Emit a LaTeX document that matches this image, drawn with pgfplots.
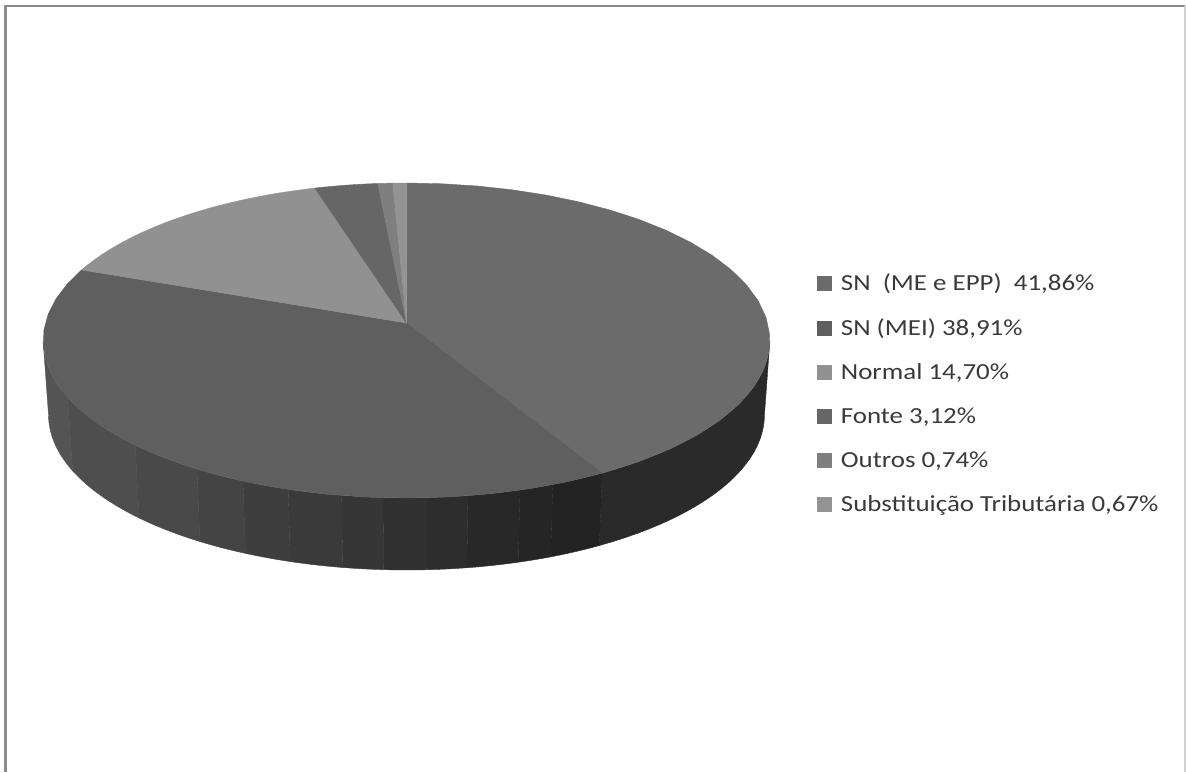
\documentclass[border=0pt]{standalone}
\usepackage{pgfplots}
\usepackage{fontspec}
\pgfplotsset{compat=1.18}
\setmainfont[FakeStretch=1.17]{Carlito}

% Shares of the collection, per cent, clockwise from twelve o'clock
\def\shareME{41.86}
\def\shareMEI{38.91}
\def\shareNormal{14.70}
\def\shareFonte{3.12}
\def\shareOutros{0.74}
\def\shareST{0.67}

\definecolor{cME}{HTML}{6B6B6B}
\definecolor{cMEI}{HTML}{5F5F5F}
\definecolor{cNormal}{HTML}{919191}
\definecolor{cFonte}{HTML}{666666}
\definecolor{cOutros}{HTML}{7F7F7F}
\definecolor{cST}{HTML}{939393}
\definecolor{frameline}{HTML}{8C8C8C}
\definecolor{legendtext}{HTML}{3A3A3A}

% Perspective projection of the disc: angle #1 (degrees, clockwise from the top),
% apex height #2, scale #3; result in \px, \py
\newcommand\project[3]{%
  \pgfmathsetmacro\pw{1+0.1111*cos(#1)}%
  \pgfmathsetmacro\px{406.5+#3*361.2*sin(#1)/\pw}%
  \pgfmathsetmacro\py{#2-#3*155.56*cos(#1)/\pw}%
}
% Appends an arc from angle #1 to angle #2 to \pts
\newcommand\arcpts[4]{%
  \pgfmathsetmacro\da{(#2-(#1))/24}%
  \foreach \i in {0,...,24}{%
    \pgfmathsetmacro\th{#1+\i*\da}%
    \project{\th}{#3}{#4}%
    \xdef\pts{\pts (\px,\py)}%
  }%
}
% Top wedge between two cumulative percentages
\newcommand\piewedge[3]{%
  \pgfmathsetmacro\aa{#1*3.6}\pgfmathsetmacro\ab{#2*3.6}%
  \gdef\pts{(406.5,323) }%
  \arcpts{\aa}{\ab}{323}{1}%
  \edef\doplot{\noexpand\addplot[fill=#3,draw=#3,line width=0.4pt,forget plot] coordinates {\pts} -- cycle;}%
  \doplot
}
% Side facet between two angles, grey value #3
\newcommand\facet[3]{%
  \gdef\pts{}%
  \arcpts{#1}{#2}{323}{1}%
  \arcpts{#2}{#1}{397.6}{0.985}%
  \definecolor{f#3}{HTML}{#3}%
  \edef\doplot{\noexpand\addplot[fill=f#3,draw=f#3,line width=0.4pt,forget plot] coordinates {\pts} -- cycle;}%
  \doplot
}

\begin{document}
\begin{tikzpicture}
\useasboundingbox (0,0) rectangle (1186pt,772pt);
\begin{axis}[
  at={(0,0)}, anchor=south west,
  scale only axis, width=1186pt, height=772pt,
  xmin=0, xmax=1186, ymin=0, ymax=772, y dir=reverse,
  hide axis, clip=false,
  legend cell align=left,
  legend style={at={(axis cs:817,272)}, anchor=north west, draw=none, fill=none,
    font=\fontsize{23}{26}\selectfont\color{legendtext},
    row sep=22.6pt, inner sep=0pt, outer sep=0pt,
    nodes={inner sep=2pt},
    /tikz/every odd column/.append style={column sep=7.5pt}},
  legend image code/.code={\fill[#1] (0pt,-7pt) rectangle (14pt,7pt);},
]
% Outer frame of the chart area
\addplot[frameline, line width=2.4pt, forget plot] coordinates {(5.5,772) (5.5,6) (1184.5,6)};
\addplot[black!18, line width=1.5pt, forget plot] coordinates {(1185,6) (1185,772)};

% Side wall, darkening towards the lower right
\facet{96.4}{150.7}{2A2A2A}
\facet{150.7}{158.7}{232323}
\facet{158.7}{163.7}{252525}
\facet{163.7}{171.3}{282828}
\facet{171.3}{177.1}{2D2D2D}
\facet{177.1}{183.3}{313131}
\facet{183.3}{189.2}{363636}
\facet{189.2}{197}{3A3A3A}
\facet{197}{204}{3E3E3E}
\facet{204}{211.7}{444444}
\facet{211.7}{223.7}{494949}
\facet{223.7}{243}{4E4E4E}
\facet{243}{263.6}{545454}

% Top face, from the cumulative shares
\pgfmathsetmacro\cA{\shareME}
\pgfmathsetmacro\cB{\cA+\shareMEI}
\pgfmathsetmacro\cC{\cB+\shareNormal}
\pgfmathsetmacro\cD{\cC+\shareFonte}
\pgfmathsetmacro\cE{\cD+\shareOutros}
\pgfmathsetmacro\cF{\cE+\shareST}
\piewedge{0}{\cA}{cME}
\piewedge{\cA}{\cB}{cMEI}
\piewedge{\cB}{\cC}{cNormal}
\piewedge{\cC}{\cD}{cFonte}
\piewedge{\cD}{\cE}{cOutros}
\piewedge{\cE}{\cF}{cST}

\addlegendimage{cME}\addlegendentry{SN\ \ (ME e EPP)\ \ 41,86\%}
\addlegendimage{cMEI}\addlegendentry{SN (MEI) 38,91\%}
\addlegendimage{cNormal}\addlegendentry{Normal 14,70\%}
\addlegendimage{cFonte}\addlegendentry{Fonte 3,12\%}
\addlegendimage{cOutros}\addlegendentry{Outros 0,74\%}
\addlegendimage{cST}\addlegendentry{Substituição Tributária 0,67\%}
\end{axis}
\end{tikzpicture}
\end{document}
